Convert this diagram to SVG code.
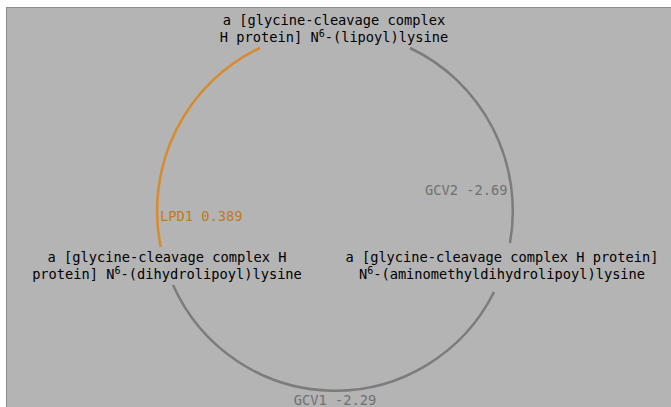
<svg xmlns="http://www.w3.org/2000/svg" width="671" height="407" viewBox="0 0 671 407">
<style>
.lbl{font-family:"DejaVu Sans Mono","Liberation Mono",monospace;font-size:13.7px;fill:#000;text-anchor:middle}
.sup{font-size:10px}
.edge{fill:none;stroke-width:2.5}
.gray{stroke:#7c7c7c}
.orange{stroke:#d88a2c}
.el{font-family:"DejaVu Sans Mono","Liberation Mono",monospace;font-size:13.7px}
</style>
<rect x="0" y="0" width="671" height="407" fill="#ffffff"/>
<rect x="6.5" y="7.5" width="670" height="405" fill="#b4b4b4" stroke="#8c8c8c" stroke-width="1"/>
<g id="connectors">
<g id="LPD1">
<path class="edge orange" d="M260,48 A178,180 0 0 0 160.6,247"/>
<text class="el" x="160" y="221" fill="#c07a22">LPD1 0.389</text>
</g>
<g id="GCV2">
<path class="edge gray" d="M410,48 A178,180 0 0 1 510,243"/>
<text class="el" x="425" y="195" fill="#707070">GCV2 -2.69</text>
</g>
<g id="GCV1">
<path class="edge gray" d="M494,292 A178,180 0 0 1 173,285"/>
<text class="el" x="335" y="405" fill="#707070" text-anchor="middle">GCV1 -2.29</text>
</g>
</g>
<g id="lipoyl">
<text class="lbl" x="334" y="25">a [glycine-cleavage complex</text>
<text class="lbl" x="334" y="42">H protein] N<tspan class="sup" dy="-5">6</tspan><tspan dy="5">-(lipoyl)lysine</tspan></text>
</g>
<g id="dihydrolipoyl">
<text class="lbl" x="167" y="262">a [glycine-cleavage complex H</text>
<text class="lbl" x="167" y="279">protein] N<tspan class="sup" dy="-5">6</tspan><tspan dy="5">-(dihydrolipoyl)lysine</tspan></text>
</g>
<g id="aminomethyl">
<text class="lbl" x="502" y="262">a [glycine-cleavage complex H protein]</text>
<text class="lbl" x="502" y="279">N<tspan class="sup" dy="-5">6</tspan><tspan dy="5">-(aminomethyldihydrolipoyl)lysine</tspan></text>
</g>
</svg>
